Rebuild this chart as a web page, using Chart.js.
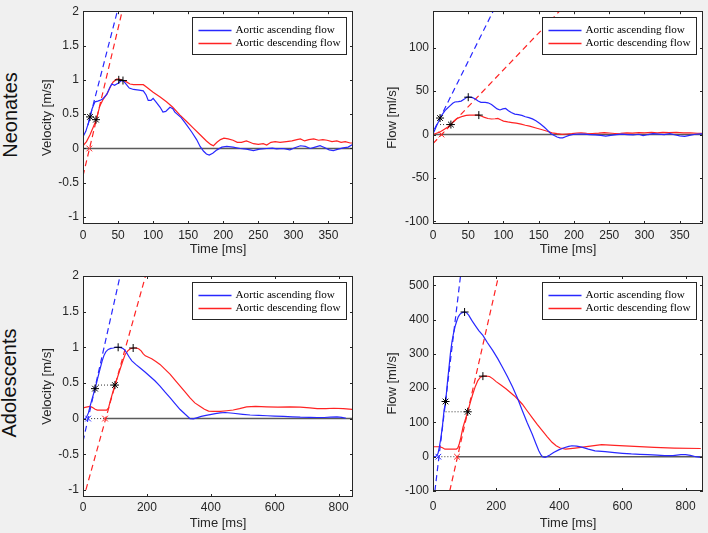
<!DOCTYPE html>
<html>
<head>
<meta charset="utf-8">
<script src="https://cdn.jsdelivr.net/npm/chart.js@4.4.0/dist/chart.umd.min.js"></script>
<style>
  body { margin: 0; background: #f0f0f0; width: 708px; height: 533px; overflow: hidden; position: relative; font-family: 'Liberation Sans', Arial, sans-serif; }
  canvas { position: absolute; }
  .group { position: absolute; font-size: 20px; color: #111; white-space: nowrap; transform: translate(-50%, -50%) rotate(-90deg); }
</style>
</head>
<body>
<div class="group" style="left:10px; top:115px">Neonates</div>
<div class="group" style="left:9px; top:383px">Adolescents</div>
<canvas id="neoVel" width="323" height="259" style="left:36px; top:0px"></canvas>
<canvas id="neoFlow" width="327" height="259" style="left:381px; top:0px"></canvas>
<canvas id="adoVel" width="323" height="271" style="left:36px; top:262px"></canvas>
<canvas id="adoFlow" width="327" height="271" style="left:381px; top:262px"></canvas>
<script>
const legendLabels = ['Aortic ascending flow', 'Aortic descending flow'];

// ---- Neonates, velocity [m/s] ----
const neoVelAscT = [0,4,8,10,13,17,21,24,28,34,38,41,45,50,55,58,62,66,72,80,86,90,93,97,100,104,110,114,118,124,128,131,140,148,155,162,167,172,176,180,185,191,198,205,214,224,233,243,252,262,270,276,285,295,302,310,317,324,331,338,345,351,357,364,371,378,385];
const neoVelAsc = [0.17,0.25,0.38,0.46,0.58,0.68,0.69,0.70,0.72,0.79,0.88,0.94,0.92,0.95,0.99,0.98,0.93,0.88,0.86,0.85,0.84,0.78,0.70,0.70,0.73,0.68,0.60,0.53,0.54,0.60,0.58,0.53,0.45,0.34,0.24,0.13,0.03,-0.04,-0.08,-0.095,-0.07,-0.02,0.02,0.03,0.02,0.0,-0.01,-0.03,-0.01,0.0,0.005,-0.005,0.0,-0.02,0.01,0.04,0.03,0.0,0.02,0.04,0.01,-0.02,-0.03,-0.01,0.01,0.02,0.06];
const neoVelDescT = [0,5,10,15,19,24,29,34,39,43,48,52,57,62,67,72,80,86,90,95,100,110,119,128,138,147,157,167,176,182,186,191,196,201,207,214,220,226,233,238,243,250,257,262,268,274,281,290,298,305,310,316,322,329,336,342,348,355,362,368,374,381,385];
const neoVelDesc = [0.04,0.1,0.2,0.32,0.42,0.62,0.72,0.79,0.9,0.97,1.01,1.01,0.99,0.97,0.94,0.93,0.93,0.93,0.9,0.86,0.82,0.75,0.68,0.60,0.49,0.40,0.30,0.2,0.11,0.06,0.04,0.09,0.13,0.15,0.14,0.12,0.09,0.09,0.11,0.09,0.07,0.06,0.07,0.05,0.09,0.10,0.09,0.10,0.11,0.13,0.14,0.11,0.13,0.14,0.12,0.13,0.12,0.10,0.11,0.09,0.10,0.08,0.08];
const neoVelTanAscT = [7, 52], neoVelTanAsc = [0.34, 2.12];
const neoVelTanDescT = [0, 57], neoVelTanDesc = [-0.4, 2.05];
const neoVelStarT = [10, 18.5], neoVelStar = [0.46, 0.42];
const neoVelPlusT = [51, 57], neoVelPlus = [1.0, 0.99];
const neoVelOnsetT = [9], neoVelOnset = [0];

// ---- Neonates, flow [ml/s] ----
const neoFlowAscT = [0,3,5,8,10,13,17,20,24,28,31,36,40,44,48,52,56,60,64,68,74,78,83,87,91,95,99,103,107,111,116,121,126,131,136,141,146,152,158,163,167,172,176,180,184,188,193,200,207,215,222,230,238,245,252,260,268,276,284,292,298,305,312,320,328,336,344,350,357,364,372,380,385];
const neoFlowAsc = [1,6,10,15,19,23,27.5,30,33,36,37.5,38,38.5,40.5,43,43,42.5,41,38.5,37,37,36.5,34.5,32,29.5,28.3,29.5,30,27.5,25.3,23.5,23,22,20.5,19.5,18,15.9,12.5,8.4,4.5,1.2,-1.2,-2.8,-3.9,-3.9,-2.5,-0.9,0.3,0.6,0.4,0,-0.5,-1,-1.8,-1,0,0.5,0,-0.5,0.3,-1.2,0,1,0.5,0,1,-0.5,-1.5,-2,-1,0.3,0.8,0.6];
const neoFlowDescT = [0,5,10,15,20,25,29,33,37,42,47,52,58,65,69,73,78,83,88,92,96,100,106,112,118,125,131,137,146,155,162,169,176,183,190,197,204,210,218,226,235,243,250,258,266,275,283,292,300,310,318,326,335,345,355,365,375,385];
const neoFlowDesc = [0,1.5,3,5.5,8,11.5,15,18,19.5,21,22,22.4,22.5,22.4,21,19.7,18.5,17.9,18.2,18.6,17,15.5,14.5,13.8,13.2,12,10.7,9.6,7.5,5.5,3.8,2,1,0.3,0.6,1,1.8,2,1.5,1.2,1.6,2.2,1.8,1.2,1.5,2,1.7,2.3,2,2.5,2,2.6,2.2,2.4,2,1.8,1.5,1.5];
const neoFlowTanAscT = [2, 90], neoFlowTanAsc = [6, 149.7];
const neoFlowTanDescT = [0, 185], neoFlowTanDesc = [-10.4, 146.7];
const neoFlowStarT = [10, 25.4], neoFlowStar = [19, 11.5];
const neoFlowPlusT = [50, 65], neoFlowPlus = [43, 22.4];
const neoFlowOnsetT = [12], neoFlowOnset = [0];
const neoFlowDotT = [10, 25.4], neoFlowDot = [11.5, 11.5];

// ---- Adolescents, velocity [m/s] ----
const adoVelAscT = [0,8,12,17,22,30,38,45,53,60,66,72,79,87,95,103,111,119,126,131,137,145,153,165,179,195,210,225,241,257,273,288,304,320,335,345,356,370,385,398,414,429,445,470,500,523,550,576,600,628,655,680,710,733,755,774,795,810,823];
const adoVelAsc = [-0.01,0.0,0.03,0.08,0.17,0.3,0.42,0.55,0.69,0.81,0.89,0.94,0.97,0.985,0.99,1.0,1.0,0.995,0.98,0.96,0.92,0.86,0.81,0.76,0.71,0.65,0.59,0.53,0.455,0.37,0.29,0.21,0.127,0.06,0.0,-0.005,0.01,0.03,0.045,0.056,0.07,0.08,0.085,0.075,0.06,0.05,0.045,0.04,0.035,0.03,0.025,0.02,0.017,0.015,0.015,0.02,0.025,0.018,0.005];
const adoVelDescT = [0,10,22,30,38,45,53,65,74,80,85,92,100,108,116,124,132,140,148,158,166,174,182,188,195,205,215,228,241,257,273,288,304,320,335,350,367,380,393,408,430,450,470,490,512,540,575,610,648,680,710,733,760,785,815,842];
const adoVelDesc = [0.15,0.16,0.17,0.155,0.13,0.12,0.12,0.12,0.12,0.15,0.24,0.35,0.47,0.58,0.69,0.8,0.9,0.95,0.98,0.99,0.99,0.98,0.95,0.91,0.88,0.86,0.84,0.80,0.76,0.69,0.62,0.54,0.455,0.37,0.29,0.22,0.17,0.13,0.105,0.10,0.10,0.11,0.12,0.14,0.165,0.17,0.165,0.16,0.165,0.16,0.15,0.14,0.14,0.145,0.14,0.13];
const adoVelTanAscT = [0, 120], adoVelTanAsc = [-0.32, 2.08];
const adoVelTanDescT = [9, 200], adoVelTanDesc = [-1.0, 2.07];
const adoVelStarT = [37.6, 100], adoVelStar = [0.42, 0.47];
const adoVelPlusT = [110, 157], adoVelPlus = [1.0, 0.99];
const adoVelOnsetAscT = [16], adoVelOnsetDescT = [69];
const adoVelDotT = [37.6, 100], adoVelDot = [0.47, 0.47];

// ---- Adolescents, flow [ml/s] ----
const adoFlowAscT = [0,8,12,16,20,25,30,35,40,45,50,55,60,65,70,75,80,85,90,95,100,106,113,120,126,135,145,158,172,189,205,220,236,252,268,283,298,314,326,335,342,348,355,362,370,382,398,415,430,440,455,471,492,513,545,575,600,628,655,680,710,733,760,785,800,815,832,848];
const adoFlowAsc = [0,0,3,10,28,55,90,135,161,210,255,300,335,360,380,395,408,415,419,421,422,420,413,402,393,381,368,354,333,310,286,261,233,203,170,134,100,66,38,17.5,5,-1,-2,1,5,12,20,26,30,32,31,28,22,17,15,12,10,8,7,6,4.5,3,3,6,6,4,0,-2];
const adoFlowDescT = [0,10,22,30,38,50,60,74,79,83,88,95,103,110,118,126,134,142,150,158,168,179,190,200,215,231,244,257,270,283,298,314,330,346,362,377,390,403,420,450,492,534,575,638,701,764,848];
const adoFlowDesc = [29,29,29,26,22,22,22,22,26,37,55,86,110,131,158,183,205,222,232,235,235,234,227,219,209,198,188,178,166,153,134,114,94,76,58,42,32,25.5,22,25,30,35,33,30,27,25,24];
const adoFlowTanAscT = [6, 88], adoFlowTanAsc = [-100, 534];
const adoFlowTanDescT = [53, 210], adoFlowTanDesc = [-100, 537];
const adoFlowStarT = [39.7, 110], adoFlowStar = [161, 131];
const adoFlowPlusT = [100, 158], adoFlowPlus = [422, 235];
const adoFlowOnsetAscT = [17], adoFlowOnsetDescT = [76];
const adoFlowDotT = [39.7, 110], adoFlowDot = [131, 131];

// tick labels
const neoTimeTicks = [0, 50, 100, 150, 200, 250, 300, 350];
const adoTimeTicks = [0, 200, 400, 600, 800];
const velTicks = [-1, -0.5, 0, 0.5, 1, 1.5, 2];
const neoFlowTicks = [-100, -50, 0, 50, 100];
const adoFlowTicks = [-100, 0, 100, 200, 300, 400, 500];

const BLUE = 'rgb(40,40,255)';
const RED = 'rgb(255,35,35)';

Chart.defaults.font.family = "'Liberation Sans', Arial, sans-serif";
Chart.defaults.color = '#262626';

function pts(xs, ys) {
  return xs.map((x, i) => ({ x: x, y: ys[i] }));
}

function curve(data, color, extra) {
  return Object.assign({ data: data, borderColor: color, borderWidth: 1.2, pointRadius: 0, fill: false, tension: 0 }, extra || {});
}

function marks(data, style, color, order) {
  return { data: data, showLine: false, pointStyle: style, pointRadius: 4, borderColor: color, backgroundColor: color, borderWidth: 1, order: order };
}

// white axes, box with inward ticks on all sides, and the MATLAB style legend
const axesBox = {
  id: 'axesBox',
  beforeDraw(chart) {
    const a = chart.chartArea, c = chart.ctx;
    c.save();
    c.fillStyle = '#fff';
    c.fillRect(a.left, a.top, a.right - a.left, a.bottom - a.top);
    c.restore();
  },
  afterDraw(chart) {
    const a = chart.chartArea, c = chart.ctx;
    const xs = chart.scales.x, ys = chart.scales.y;
    c.save();
    c.strokeStyle = '#262626';
    c.lineWidth = 1;
    c.strokeRect(Math.round(a.left) + 0.5, Math.round(a.top) + 0.5, Math.round(a.right - a.left) - 1, Math.round(a.bottom - a.top) - 1);
    c.beginPath();
    xs.ticks.forEach(t => {
      const px = Math.round(xs.getPixelForValue(t.value)) + 0.5;
      c.moveTo(px, a.bottom); c.lineTo(px, a.bottom - 3);
      c.moveTo(px, a.top); c.lineTo(px, a.top + 3);
    });
    ys.ticks.forEach(t => {
      const py = Math.round(ys.getPixelForValue(t.value)) + 0.5;
      c.moveTo(a.left, py); c.lineTo(a.left + 3, py);
      c.moveTo(a.right, py); c.lineTo(a.right - 3, py);
    });
    c.stroke();

    // legend
    const w = 154, h = 37;
    const bx = Math.round(a.right - 7 - w) + 0.5, by = Math.round(a.top + 6) + 0.5;
    c.fillStyle = '#fff';
    c.fillRect(bx, by, w, h);
    c.strokeStyle = '#262626';
    c.strokeRect(bx, by, w, h);
    c.font = "11.2px 'Liberation Serif', 'Times New Roman', serif";
    c.textBaseline = 'middle';
    [BLUE, RED].forEach((col, i) => {
      const ly = Math.round(by + 12 + i * 13.3) + 0.5;
      c.strokeStyle = col;
      c.lineWidth = 1.5;
      c.beginPath(); c.moveTo(bx + 6, ly); c.lineTo(bx + 39, ly); c.stroke();
      c.fillStyle = '#000';
      c.fillText(legendLabels[i], bx + 43, ly);
    });
    c.restore();
  }
};

function drawPanel(id, p) {
  const datasets = [
    marks(p.plus, 'cross', '#000', 0),
    marks(p.star, 'star', '#000', 0),
    curve(p.asc, BLUE, { order: 2 }),
    curve(p.desc, RED, { order: 2 }),
    curve(p.tanAsc, BLUE, { borderDash: [6, 4], order: 3 }),
    curve(p.tanDesc, RED, { borderDash: [6, 4], order: 3 }),
    curve(p.zero, 'rgb(90,90,90)', { borderWidth: 1.5, order: 4 })
  ];
  p.dots.forEach(d => datasets.push(curve(d, '#333', { borderWidth: 1, borderDash: [1, 2], order: 1 })));
  if (p.onsetAsc) datasets.push(marks(p.onsetAsc, 'crossRot', BLUE, 0));
  if (p.onsetDesc) datasets.push(marks(p.onsetDesc, 'crossRot', RED, 0));

  new Chart(document.getElementById(id), {
    type: 'line',
    data: { datasets: datasets },
    plugins: [axesBox],
    options: {
      responsive: false,
      animation: false,
      devicePixelRatio: 1,
      events: [],
      layout: { padding: { top: p.padTop, right: p.padRight, left: 0, bottom: 0 } },
      plugins: { legend: { display: false }, tooltip: { enabled: false } },
      scales: {
        x: {
          type: 'linear', min: 0, max: p.xMax,
          grid: { display: false, drawTicks: false },
          border: { display: false },
          afterBuildTicks: s => { s.ticks = p.xTicks.map(v => ({ value: v })); },
          afterFit: s => { s.height = p.xAxisHeight; },
          ticks: { padding: p.xTickPad, maxRotation: 0, font: { size: 12 }, callback: v => String(v) },
          title: { display: true, text: 'Time [ms]', font: { size: 13 }, color: '#262626', padding: { top: 0, bottom: 2 } }
        },
        y: {
          type: 'linear', min: p.yMin, max: p.yMax,
          grid: { display: false, drawTicks: false },
          border: { display: false },
          afterBuildTicks: s => { s.ticks = p.yTicks.map(v => ({ value: v })); },
          afterFit: s => { s.width = p.yAxisWidth; },
          ticks: { padding: 4, font: { size: 12 }, callback: v => String(v) },
          title: { display: true, text: p.yTitle, font: { size: 13 }, color: '#262626', padding: { top: 4, bottom: 0 } }
        }
      }
    }
  });
}

drawPanel('neoVel', {
  asc: pts(neoVelAscT, neoVelAsc), desc: pts(neoVelDescT, neoVelDesc),
  tanAsc: pts(neoVelTanAscT, neoVelTanAsc), tanDesc: pts(neoVelTanDescT, neoVelTanDesc),
  star: pts(neoVelStarT, neoVelStar), plus: pts(neoVelPlusT, neoVelPlus),
  onsetDesc: pts(neoVelOnsetT, neoVelOnset),
  zero: pts([0, 385], [0, 0]), dots: [],
  xMax: 385, yMin: -1.1, yMax: 2, xTicks: neoTimeTicks, yTicks: velTicks,
  yTitle: 'Velocity [m/s]', yAxisWidth: 47, xAxisHeight: 35, padTop: 7, padRight: 6, xTickPad: 4
});

drawPanel('neoFlow', {
  asc: pts(neoFlowAscT, neoFlowAsc), desc: pts(neoFlowDescT, neoFlowDesc),
  tanAsc: pts(neoFlowTanAscT, neoFlowTanAsc), tanDesc: pts(neoFlowTanDescT, neoFlowTanDesc),
  star: pts(neoFlowStarT, neoFlowStar), plus: pts(neoFlowPlusT, neoFlowPlus),
  onsetDesc: pts(neoFlowOnsetT, neoFlowOnset),
  zero: pts([0, 383], [0, 0]), dots: [pts(neoFlowDotT, neoFlowDot)],
  xMax: 383, yMin: -103, yMax: 142, xTicks: neoTimeTicks, yTicks: neoFlowTicks,
  yTitle: 'Flow [ml/s]', yAxisWidth: 52, xAxisHeight: 35, padTop: 7, padRight: 3, xTickPad: 4
});

drawPanel('adoVel', {
  asc: pts(adoVelAscT, adoVelAsc), desc: pts(adoVelDescT, adoVelDesc),
  tanAsc: pts(adoVelTanAscT, adoVelTanAsc), tanDesc: pts(adoVelTanDescT, adoVelTanDesc),
  star: pts(adoVelStarT, adoVelStar), plus: pts(adoVelPlusT, adoVelPlus),
  onsetAsc: pts(adoVelOnsetAscT, [0]), onsetDesc: pts(adoVelOnsetDescT, [0]),
  zero: pts([adoVelOnsetDescT[0], 845], [0, 0]),
  dots: [pts(adoVelDotT, adoVelDot), pts([adoVelOnsetAscT[0], adoVelOnsetDescT[0]], [0, 0])],
  xMax: 845, yMin: -1.1, yMax: 2, xTicks: adoTimeTicks, yTicks: velTicks,
  yTitle: 'Velocity [m/s]', yAxisWidth: 47, xAxisHeight: 36, padTop: 14, padRight: 6, xTickPad: 3
});

drawPanel('adoFlow', {
  asc: pts(adoFlowAscT, adoFlowAsc), desc: pts(adoFlowDescT, adoFlowDesc),
  tanAsc: pts(adoFlowTanAscT, adoFlowTanAsc), tanDesc: pts(adoFlowTanDescT, adoFlowTanDesc),
  star: pts(adoFlowStarT, adoFlowStar), plus: pts(adoFlowPlusT, adoFlowPlus),
  onsetAsc: pts(adoFlowOnsetAscT, [0]), onsetDesc: pts(adoFlowOnsetDescT, [0]),
  zero: pts([adoFlowOnsetDescT[0], 855], [0, 0]),
  dots: [pts(adoFlowDotT, adoFlowDot), pts([adoFlowOnsetAscT[0], adoFlowOnsetDescT[0]], [0, 0])],
  xMax: 855, yMin: -100, yMax: 527, xTicks: adoTimeTicks, yTicks: adoFlowTicks,
  yTitle: 'Flow [ml/s]', yAxisWidth: 52, xAxisHeight: 42, padTop: 14, padRight: 2, xTickPad: 8
});
</script>
</body>
</html>
